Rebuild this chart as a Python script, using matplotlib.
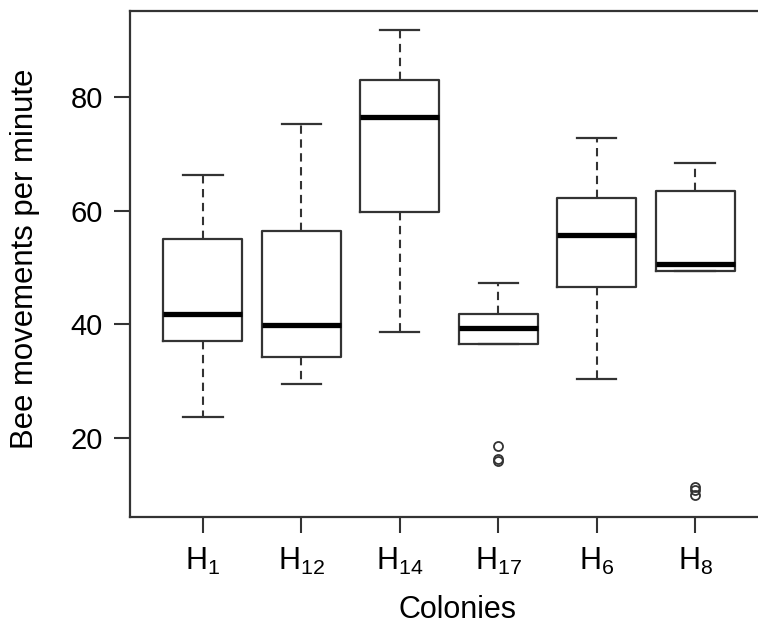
import matplotlib
matplotlib.use("Agg")
import matplotlib.pyplot as plt

# ------------------------------------------------
# Data
# ------------------------------------------------
colonies = ["1", "12", "14", "17", "6", "8"]
whisker_low = [23.6, 29.4, 38.6, 36.5, 30.3, 49.4]
q1 = [37.0, 34.2, 59.8, 36.5, 46.6, 49.4]
median = [41.8, 39.9, 76.5, 39.4, 55.8, 50.7]
q3 = [55.0, 56.5, 83.0, 41.9, 62.3, 63.4]
whisker_high = [66.3, 75.2, 91.9, 47.2, 72.8, 68.4]
outliers = [[], [], [], [18.5, 16.3, 16.0], [], [11.4, 10.8, 10.0]]

y_ticks = [20, 40, 60, 80]

# ------------------------------------------------
# Fonts
# ------------------------------------------------
plt.rcParams["font.family"] = ["Liberation Sans", "DejaVu Sans"]
plt.rcParams["mathtext.fontset"] = "custom"
plt.rcParams["mathtext.rm"] = "Liberation Sans"
plt.rcParams["mathtext.it"] = "Liberation Sans:italic"
plt.rcParams["lines.scale_dashes"] = False

fig = plt.figure(figsize=(7.58, 6.24), dpi=100)
ax = fig.add_axes([0.1715, 0.1715, 0.8417, 0.8109])

stats = []
for i, name in enumerate(colonies):
    stats.append({
        "label": name,
        "whislo": whisker_low[i],
        "q1": q1[i],
        "med": median[i],
        "q3": q3[i],
        "whishi": whisker_high[i],
        "fliers": outliers[i],
    })

edge = "#333333"
positions = list(range(1, len(colonies) + 1))
ax.bxp(
    stats,
    positions=positions,
    widths=0.8,
    boxprops=dict(color=edge, linewidth=1.6),
    medianprops=dict(color="black", linewidth=3.8, solid_capstyle="butt"),
    whiskerprops=dict(color=edge, linewidth=1.5, linestyle=(0, (6, 4))),
    capprops=dict(color=edge, linewidth=1.6),
    flierprops=dict(marker="o", markerfacecolor="none", markeredgecolor=edge,
                    markersize=6.5, markeredgewidth=1.3, linestyle="none"),
)

# ------------------------------------------------
# Axes, ticks and labels
# ------------------------------------------------
ax.set_xlim(0.26, 6.74)
ax.set_ylim(6.05, 95.2)
ax.set_xticks(positions)
ax.set_xticklabels([r"$\mathrm{H}_{\mathrm{%s}}$" % c for c in colonies], fontsize=22)
ax.set_yticks(y_ticks)
ax.set_yticklabels([str(v) for v in y_ticks], fontsize=21)
ax.tick_params(axis="both", length=11.5, width=1.5, color=edge, direction="out")
ax.tick_params(axis="x", pad=9)
ax.tick_params(axis="y", pad=8)

for side in ["left", "bottom", "top", "right"]:
    ax.spines[side].set_color(edge)
    ax.spines[side].set_linewidth(1.6)

ax.set_xlabel("Colonies", fontsize=22)
ax.set_ylabel("Bee movements per minute", fontsize=22.4)
ax.xaxis.set_label_coords(0.514, -0.155)
ax.yaxis.set_label_coords(-0.141, 0.51)

fig.savefig("out.png", dpi=100)
